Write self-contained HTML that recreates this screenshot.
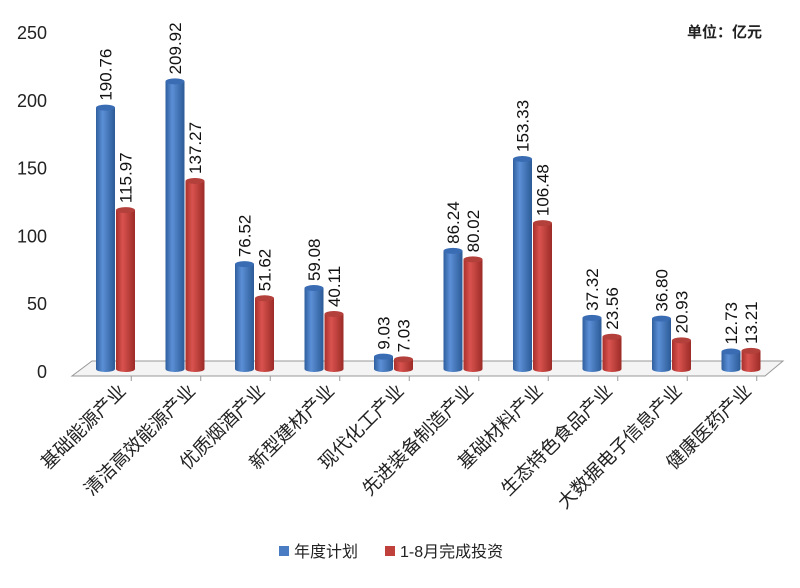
<!DOCTYPE html>
<html><head><meta charset="utf-8"><style>
body{margin:0;background:#fff;}
svg{display:block;font-family:"Liberation Sans","Noto Sans CJK SC",sans-serif;}
</style></head><body>
<svg id="c" width="800" height="588">
<defs>
<linearGradient id="gb" x1="0" x2="1"><stop offset="0" stop-color="#2f5f9e"/><stop offset="0.35" stop-color="#5b8fd6"/><stop offset="1" stop-color="#2b5a96"/></linearGradient>
<linearGradient id="gr" x1="0" x2="1"><stop offset="0" stop-color="#a8302c"/><stop offset="0.35" stop-color="#d9534f"/><stop offset="1" stop-color="#9c2b27"/></linearGradient>
</defs>
<polygon points="92,361 783,361 765,376 72,376" fill="#f4f4f4" stroke="#999" stroke-width="1"/>
<text x="762" y="37" font-size="15" font-weight="bold" text-anchor="end" fill="#222">单位：亿元</text>
<g id="yaxis"></g><g id="bars"></g><g id="xl"></g>
<g>
<rect x="279" y="546" width="10" height="10" fill="#4a7cc4"/>
<text x="294" y="557" font-size="16" fill="#222">年度计划</text>
<rect x="385" y="546" width="10" height="10" fill="#c0403b"/>
<text x="400" y="557" font-size="16" fill="#222">1-8月完成投资</text>
</g>
</svg>
<script>
const categories=["基础能源产业","清洁高效能源产业","优质烟酒产业","新型建材产业","现代化工产业","先进装备制造产业","基础材料产业","生态特色食品产业","大数据电子信息产业","健康医药产业"];
const plan=[190.76,209.92,76.52,59.08,9.03,86.24,153.33,37.32,36.80,12.73];
const actual=[115.97,137.27,51.62,40.11,7.03,80.02,106.48,23.56,20.93,13.21];
const yTicks=[0,50,100,150,200,250];
const NS="http://www.w3.org/2000/svg";
const base=369,k=1.37;
const y=v=>base-v*k;
const yl=v=>372-v*1.356;
const x0=96,step=69.5,bw=19;
function mk(t,a,p){const e=document.createElementNS(NS,t);for(const n in a)e.setAttribute(n,a[n]);p.appendChild(e);return e;}
const ya=document.getElementById('yaxis');
yTicks.forEach(v=>{const t=mk('text',{x:47,y:yl(v)+6,'font-size':18,'text-anchor':'end',fill:'#222'},ya);t.textContent=v;

});
const bg=document.getElementById('bars'),xg=document.getElementById('xl');
function bar(v,x,fill,cap,name,lab){
 const top=y(v);
 const g=mk('g',{},bg);
 
 
 mk('rect',{x:x,y:top,width:bw,height:base-top,fill:fill},g);
 mk('ellipse',{cx:x+bw/2,cy:base,rx:bw/2,ry:3,fill:fill},g);
 mk('ellipse',{cx:x+bw/2,cy:top,rx:bw/2,ry:3,fill:cap},g);
 const t=mk('text',{x:0,y:0,'font-size':17,fill:'#111',transform:`translate(${x+bw/2+6},${top-7}) rotate(-90)`},bg);
 t.textContent=lab;
 
 
}
categories.forEach((c,i)=>{
 const bx=x0+i*step;
 bar(plan[i],bx,'url(#gb)','#3a6cb4','bar-plan-'+i,plan[i].toFixed(2));
 bar(actual[i],bx+bw+1,'url(#gr)','#b3403b','bar-actual-'+i,actual[i].toFixed(2));
 const tx=bx+bw+1+ (step-bw*2)/2+bw/2;
 mk('line',{x1:tx-10,y1:376,x2:tx-10,y2:381,stroke:'#999'},xg);
 const t=mk('text',{x:0,y:0,'font-size':18.5,fill:'#222','text-anchor':'end',transform:`translate(${bx+bw+12},${392}) rotate(-45)`},xg);
 t.textContent=c;
 
 
});
</script>
</body></html>
